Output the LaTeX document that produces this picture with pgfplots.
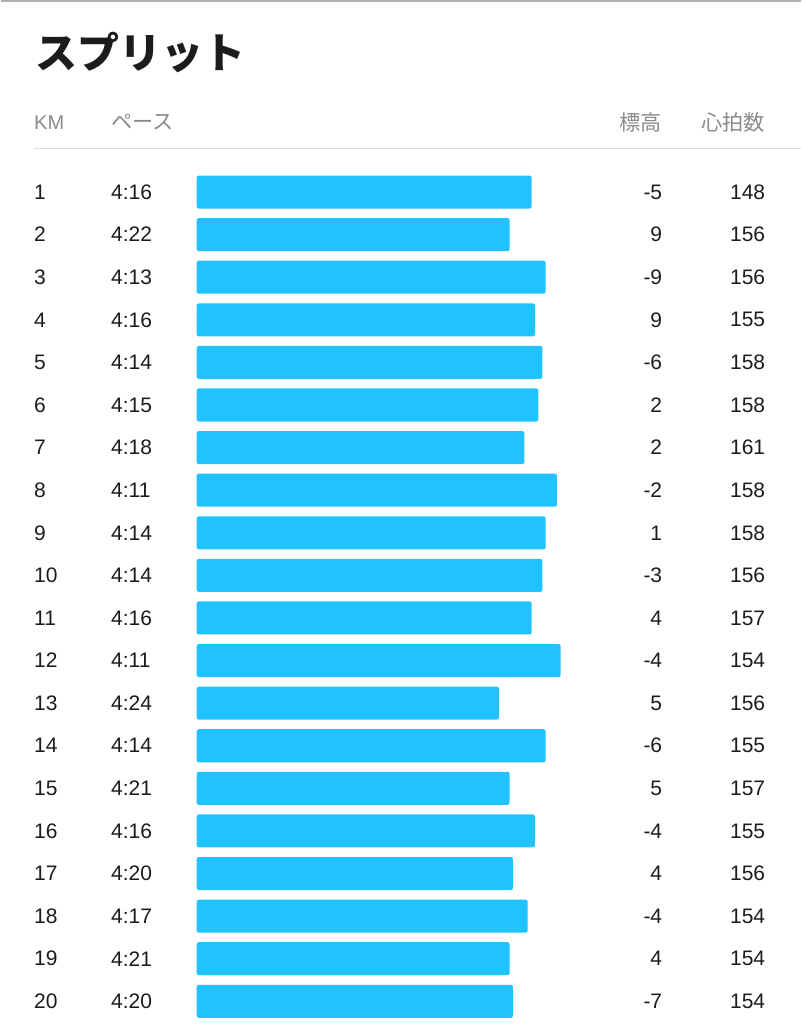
\documentclass[border=0pt]{standalone}
\usepackage{pgfplots}
\pgfplotsset{compat=1.18}
\usepackage{pgfplotstable}
\usepackage{fontspec}
\setmainfont{Liberation Sans}
\newfontfamily\cjk{Noto Sans CJK JP}
\definecolor{barblue}{RGB}{33,195,255}
\definecolor{txt}{RGB}{28,28,30}
\definecolor{hdr}{RGB}{138,138,142}
\definecolor{sep}{RGB}{222,222,226}
\definecolor{topline}{RGB}{176,176,176}

\pgfplotstableread{
km pace bar elev hr
1 4:16 335 -5 148
2 4:22 313 9 156
3 4:13 349 -9 156
4 4:16 338.3 9 155
5 4:14 345.7 -6 158
6 4:15 341.7 2 158
7 4:18 327.7 2 161
8 4:11 360.3 -2 158
9 4:14 349 1 158
10 4:14 345.7 -3 156
11 4:16 335 4 157
12 4:11 364 -4 154
13 4:24 302.3 5 156
14 4:14 349 -6 155
15 4:21 313 5 157
16 4:16 338.3 -4 155
17 4:20 316.3 4 156
18 4:17 331 -4 154
19 4:21 313 4 154
20 4:20 316.3 -7 154
}\splits

\begin{document}
\begin{tikzpicture}
\begin{axis}[
  width=400pt, height=512pt, scale only axis,
  xmin=-196, xmax=604, ymin=-3.5, ymax=20.533,
  y dir=reverse, axis lines=none, clip=false,
  ticks=none,
  rowtext/.style={draw=none, mark=none, nodes near coords, point meta=explicit symbolic,
    nodes near coords style={inner sep=0pt, font=\fontsize{10.5}{12}\selectfont, text=txt}},
]
\path (axis cs:-196,-3.5) rectangle (axis cs:604,20.533);
\draw[topline, line width=0.8pt] (axis cs:-196,-3.49) -- (axis cs:604,-3.49);
\draw[sep, line width=0.7pt] (axis cs:-163,-0.026) -- (axis cs:604,-0.026);

\node[anchor=west, inner sep=0pt, text=txt] at (axis cs:-162,-2.279) {\cjk\bfseries\fontsize{21}{24}\selectfont スプリット};
\node[anchor=west, inner sep=0pt, text=hdr] at (axis cs:-163,-0.636) {\fontsize{10}{12}\selectfont KM};
\node[anchor=west, inner sep=0pt, text=hdr] at (axis cs:-86,-0.636) {\cjk\fontsize{10.6}{12}\selectfont ペース};
\node[anchor=east, inner sep=0pt, text=hdr] at (axis cs:466,-0.636) {\cjk\fontsize{10.6}{12}\selectfont 標高};
\node[anchor=east, inner sep=0pt, text=hdr] at (axis cs:569,-0.636) {\cjk\fontsize{10.6}{12}\selectfont 心拍数};

\addplot[xbar, fill=barblue, draw=none, bar width=0.775, rounded corners=1pt] table[x=bar, y=km] {\splits};

\addplot[rowtext, nodes near coords style={anchor=west}] table[x expr=-163, y=km, meta=km] {\splits};
\addplot[rowtext, nodes near coords style={anchor=west}] table[x expr=-86, y=km, meta=pace] {\splits};
\addplot[rowtext, nodes near coords style={anchor=east}] table[x expr=466, y=km, meta=elev] {\splits};
\addplot[rowtext, nodes near coords style={anchor=east}] table[x expr=569, y=km, meta=hr] {\splits};
\end{axis}
\end{tikzpicture}
\end{document}
